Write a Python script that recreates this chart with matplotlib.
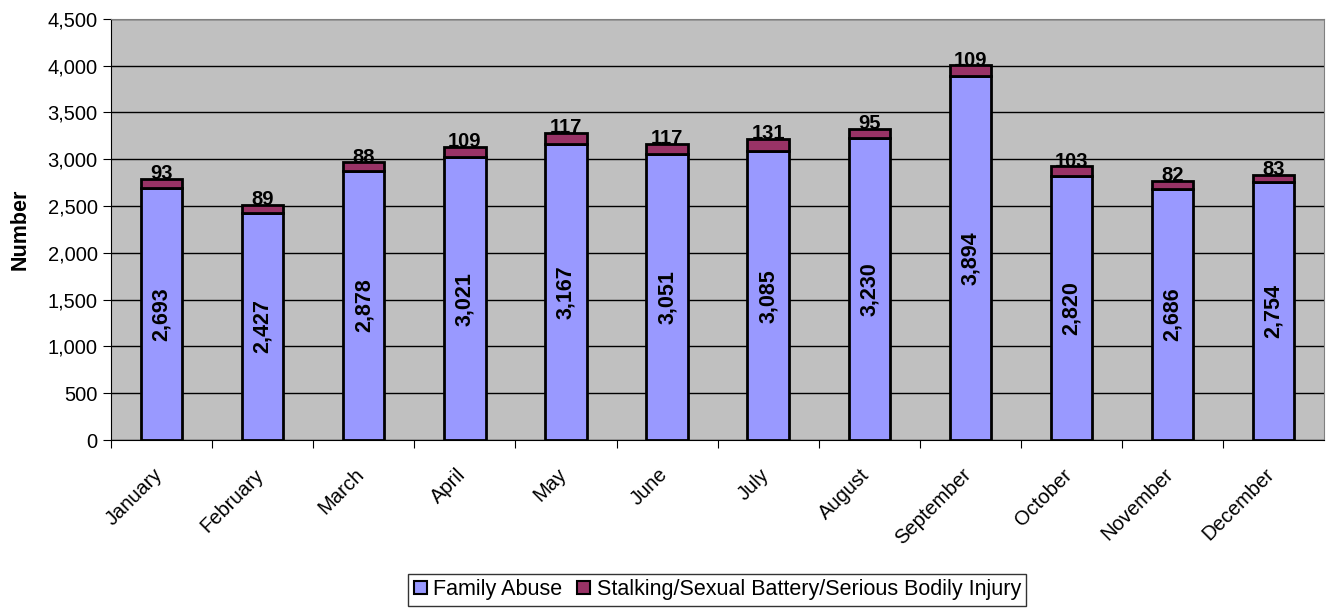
import matplotlib.pyplot as plt
import matplotlib.ticker as mticker
import matplotlib.transforms as mtransforms
from matplotlib.patches import Patch

plt.rcParams["font.family"] = ["Liberation Sans", "DejaVu Sans"]

months = ["January", "February", "March", "April", "May", "June", "July",
          "August", "September", "October", "November", "December"]
family_abuse = [2693, 2427, 2878, 3021, 3167, 3051, 3085, 3230, 3894, 2820, 2686, 2754]
stalking = [93, 89, 88, 109, 117, 117, 131, 95, 109, 103, 82, 83]

fig = plt.figure(figsize=(13.26, 6.09), dpi=100)
ax = fig.add_axes([0.0837, 0.2775, 0.915, 0.6915])
ax.set_facecolor("#C0C0C0")

x = list(range(len(months)))
w = 0.41
ax.bar(x, family_abuse, w, color="#9999FF", edgecolor="black", linewidth=2, zorder=3)
ax.bar(x, stalking, w, bottom=family_abuse, color="#993366", edgecolor="black",
       linewidth=2, zorder=3)

for i in x:
    ax.text(i, family_abuse[i] / 2, f"{family_abuse[i]:,}", rotation=90,
            ha="center", va="center", fontsize=15.5, fontweight="bold", zorder=4)
    ax.text(i, family_abuse[i] + stalking[i] - 45, f"{stalking[i]}",
            ha="center", va="bottom", fontsize=14.5, fontweight="bold", zorder=4)

ax.set_xlim(-0.5, 11.5)
ax.set_ylim(0, 4500)
ax.yaxis.set_major_locator(mticker.MultipleLocator(500))
ax.yaxis.set_major_formatter(mticker.StrMethodFormatter("{x:,.0f}"))
ax.grid(axis="y", color="black", linewidth=1, zorder=0)
ax.set_axisbelow(True)

# tick marks sit between the months, labels under the bars
ax.set_xticks([i + 0.5 for i in x[:-1]] + [-0.5], minor=False)
ax.set_xticklabels([])
ax.set_xticks(x, minor=True)
ax.set_xticklabels(months, minor=True, rotation=45, ha="right",
                   rotation_mode="anchor", fontsize=14.5)
ax.tick_params(axis="x", which="minor", length=0, pad=18)
ax.tick_params(axis="x", which="major", length=6, color="black", direction="out")
ax.tick_params(axis="y", labelsize=14.5, length=6, color="black")
shift = mtransforms.ScaledTranslation(-0.09, 0, fig.dpi_scale_trans)
for lbl in ax.get_xticklabels(minor=True):
    lbl.set_transform(lbl.get_transform() + shift)

for side in ["top", "right"]:
    ax.spines[side].set_color("#808080")
for side in ["left", "bottom"]:
    ax.spines[side].set_color("black")

ax.set_ylabel("Number", fontsize=15.5, fontweight="bold", labelpad=12)

handles = [Patch(facecolor="#9999FF", edgecolor="black", linewidth=1.5),
           Patch(facecolor="#993366", edgecolor="black", linewidth=1.5)]
fig.legend(handles, ["Family Abuse", "Stalking/Sexual Battery/Serious Bodily Injury"],
           loc="lower center", bbox_to_anchor=(0.541, -0.012), ncol=2, fontsize=15.5,
           frameon=True, fancybox=False, edgecolor="black", handlelength=0.6,
           handleheight=0.6, handletextpad=0.3, columnspacing=0.7, borderpad=0.25)

fig.savefig("out.png", dpi=100)
